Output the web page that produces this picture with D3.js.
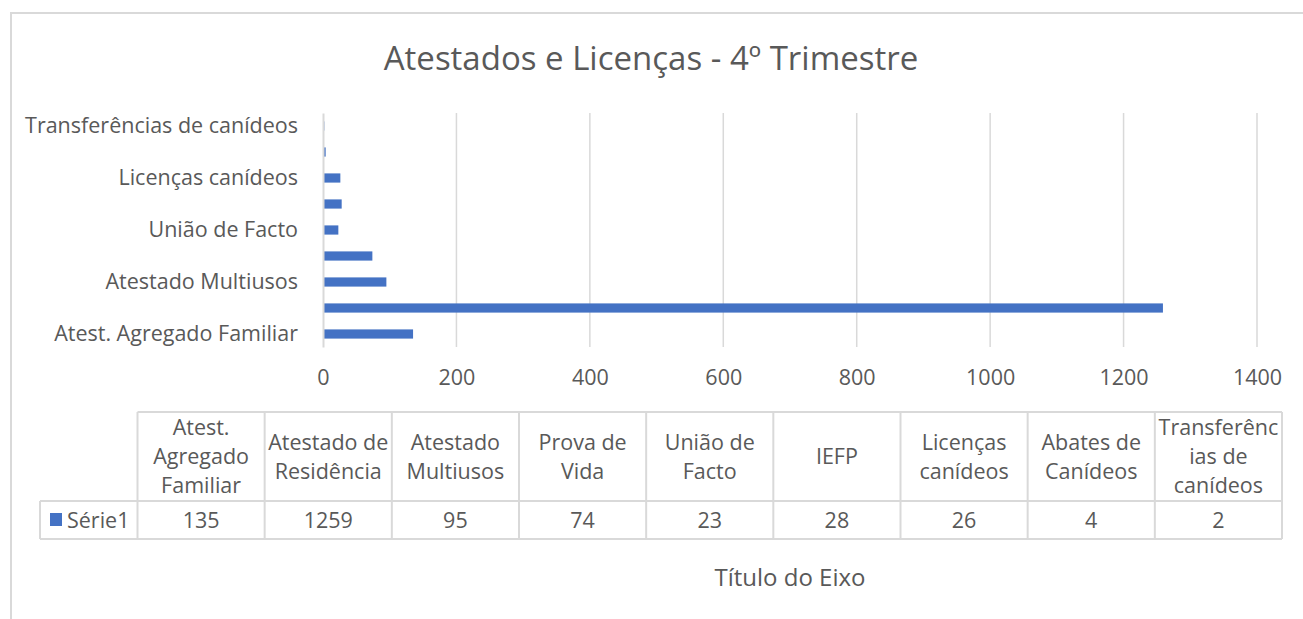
<!DOCTYPE html>
<html><head><meta charset="utf-8">
<script src="https://cdn.jsdelivr.net/npm/d3@7"></script>
<style>
body{margin:0;background:#fff}
text{font-family:"Open Sans",sans-serif;fill:#595959}
</style>
</head><body>
<svg id="c" width="1303" height="619"></svg>
<script>
const categories = ["Atest. Agregado Familiar","Atestado de Residência","Atestado Multiusos","Prova de Vida","União de Facto","IEFP","Licenças canídeos","Abates de Canídeos","Transferências de canídeos"];
const values = [135,1259,95,74,23,28,26,4,2];
const headerLines = [["Atest.","Agregado","Familiar"],["Atestado de","Residência"],["Atestado","Multiusos"],["Prova de","Vida"],["União de","Facto"],["IEFP"],["Licenças","canídeos"],["Abates de","Canídeos"],["Transferênc","ias de","canídeos"]];
const xTicks = [0,200,400,600,800,1000,1200,1400];
const seriesName = "Série1";
const chartTitle = "Atestados e Licenças - 4º Trimestre";
const axisTitle = "Título do Eixo";

const svg = d3.select("#c");
const textCol = "#595959", lineCol = "#d9d9d9", barCol = "#4472C4";
const fs = 21.5;

// chart frame
svg.append("path").attr("d","M11,619V13H1303").attr("fill","none").attr("stroke",lineCol).attr("stroke-width",2);

// title
svg.append("text").attr("x",651).attr("y",58).attr("dy","0.35em").attr("text-anchor","middle")
  .style("font-size","33px").text(chartTitle);

// scales
const x = d3.scaleLinear().domain([0,1400]).range([323,1257]);
const y = d3.scaleBand().domain(categories).range([347,113]).padding(0);
const barH = y.bandwidth()*0.354;

// gridlines
svg.append("g").selectAll("line").data(xTicks.filter(d=>d>0)).join("line")
  .attr("x1",d=>x(d)).attr("x2",d=>x(d)).attr("y1",113).attr("y2",347)
  .attr("stroke",lineCol).attr("stroke-width",1.5);

// bars
svg.append("g").selectAll("rect").data(categories).join("rect")
  .attr("x",x(0)).attr("y",(d)=>y(d)+(y.bandwidth()-barH)/2)
  .attr("width",(d,i)=>x(values[i])-x(0)).attr("height",barH).attr("fill",barCol);

// y axis
const yAxis = d3.axisLeft(y).tickSize(0).tickPadding(25)
  .tickFormat((d,i)=> i%2===0 ? d : "");
const gy = svg.append("g").attr("transform",`translate(${x(0)},0)`).call(yAxis);
gy.select(".domain").attr("stroke",lineCol).attr("stroke-width",2);
gy.selectAll("text").style("font-size",fs+"px").attr("fill",textCol).style("font-family","'Open Sans',sans-serif");

// x axis
const xAxis = d3.axisBottom(x).tickValues(xTicks).tickSize(0).tickPadding(0).tickFormat(d3.format("d"));
const gx = svg.append("g").attr("transform","translate(0,377)").call(xAxis);
gx.select(".domain").remove();
gx.selectAll("text").attr("dy","0.35em").style("font-size",fs+"px").attr("fill",textCol).style("font-family","'Open Sans',sans-serif");

// data table
const tL = 40, tC = 137.5, tR = 1282, tTop = 412, tMid = 501, tBot = 539;
const col = d3.scaleBand().domain(categories).range([tC,tR]).padding(0);
const tg = svg.append("g");
const ln = (x1,y1,x2,y2)=>tg.append("line").attr("x1",x1).attr("y1",y1).attr("x2",x2).attr("y2",y2).attr("stroke",lineCol).attr("stroke-width",2);
ln(tC,tTop,tR,tTop); ln(tL,tMid,tR,tMid); ln(tL,tBot,tR,tBot); ln(tL,tMid,tL,tBot);
ln(tC,tTop,tC,tBot);
categories.forEach(c=>ln(col(c)+col.bandwidth(),tTop,col(c)+col.bandwidth(),tBot));

const lh = 29, hc = (tTop+tMid)/2;
categories.forEach((c,i)=>{
  const lines = headerLines[i];
  const cx = col(c)+col.bandwidth()/2;
  lines.forEach((t,j)=>{
    tg.append("text").attr("x",cx).attr("y",hc-(lines.length-1)*lh/2+j*lh).attr("dy","0.35em")
      .attr("text-anchor","middle").style("font-size",fs+"px").text(t);
  });
  tg.append("text").attr("x",cx).attr("y",(tMid+tBot)/2).attr("dy","0.35em")
    .attr("text-anchor","middle").style("font-size",fs+"px").text(values[i]);
});
tg.append("rect").attr("x",50).attr("y",513).attr("width",12).attr("height",13).attr("fill",barCol);
tg.append("text").attr("x",67).attr("y",(tMid+tBot)/2).attr("dy","0.35em").style("font-size",fs+"px").text(seriesName);

// axis title
svg.append("text").attr("x",790).attr("y",578).attr("dy","0.35em").attr("text-anchor","middle")
  .style("font-size","24px").text(axisTitle);
</script>
</body></html>
